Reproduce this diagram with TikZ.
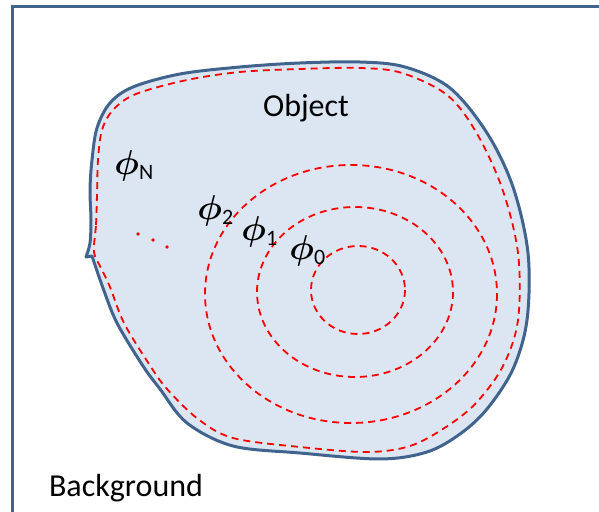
\documentclass[tikz,border=0pt]{standalone}
\usepackage{bm}
\usepackage{fontspec}
\setmainfont{Carlito}
\begin{document}
\begin{tikzpicture}[x=0.5pt,y=-0.5pt,
  frame/.style={draw=framecol,line width=1.5pt},
  blob/.style={draw=framecol,line width=1.5pt,fill=fillcol,line join=round},
  contour/.style={draw=contourcol,line width=0.9pt,dash pattern=on 3.5pt off 2.5pt},
  lbl/.style={font=\fontsize{16}{19}\selectfont,inner sep=0pt},
  phi/.style={font=\fontsize{17}{20}\selectfont,inner sep=0pt}]
\definecolor{framecol}{HTML}{41648F}
\definecolor{fillcol}{HTML}{DCE6F2}
\definecolor{contourcol}{HTML}{FF0000}
\useasboundingbox (0,0) rectangle (599,512);
% frame (only left and top edges visible)
\draw[frame] (12,520) -- (12,7) -- (610,7);
% object blob
\draw[blob] plot[smooth,tension=0.55] coordinates {
 (86,257) (90,243) (91,220) (90,190) (92,160) (97,128) (110,103) (133,87) (180,74)
 (240,67) (300,63) (360,62) (405,67) (450,88) (487,133) (513,187) (528,253)
 (527,320) (513,369) (487,409) (460,434) (427,452) (380,459) (300,453)
 (233,446) (187,423) (160,389) (143,366) (117,323) (103,288) (92,256)} -- cycle;
% outer dashed contour
\draw[contour] plot[smooth cycle,tension=0.55] coordinates {
 (94,252) (96,225) (97,195) (98,160) (102,130) (113,110) (136,94) (187,80)
 (240,72) (300,69) (360,68) (402,73) (447,95) (476,132) (502,188) (518,253)
 (518,320) (503,366) (476,403) (446,427) (410,446) (367,452) (300,447)
 (233,438) (198,419) (167,389) (149,364) (124,323) (110,287) (101,268)};
% level sets
\draw[contour] (358,290) ellipse [x radius=47,y radius=44];
\draw[contour] (355,292) ellipse [x radius=98,y radius=85];
\draw[contour] (351,294) ellipse [x radius=146,y radius=129];
% dots
\fill[contourcol] (138,234) circle (1.9) (153,240) circle (1.9) (167,247) circle (1.9);
% labels
\node[lbl] (obj) at (306,108) {Object};
\node[lbl] (bg) at (126,488) {Background};
\node[phi,anchor=base west] (pN) at (114,175) {$\bm{\phi}$\raisebox{-0.3ex}{\fontsize{11}{13}\selectfont N}};
\node[phi,anchor=base west] (p2) at (197,220) {$\bm{\phi}$\raisebox{-0.3ex}{\fontsize{11}{13}\selectfont 2}};
\node[phi,anchor=base west] (p1) at (241,241) {$\bm{\phi}$\raisebox{-0.3ex}{\fontsize{11}{13}\selectfont 1}};
\node[phi,anchor=base west] (p0) at (289,260) {$\bm{\phi}$\raisebox{-0.3ex}{\fontsize{11}{13}\selectfont 0}};
\end{tikzpicture}
\end{document}
